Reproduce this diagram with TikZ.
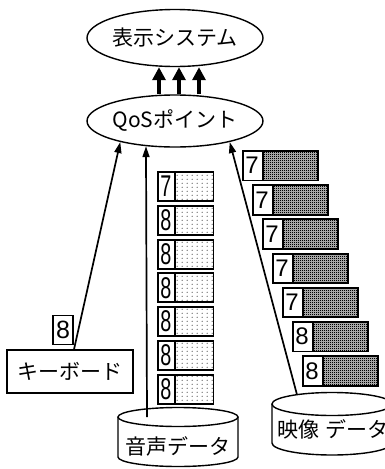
\documentclass[tikz,border=0pt]{standalone}
\usepackage{graphicx}
\usepackage{fontspec}
\newfontfamily\jpfont{Noto Sans CJK JP}
\newfontfamily\numfont{Liberation Sans}
\usetikzlibrary{shapes.geometric,arrows.meta,patterns.meta,calc}

% light dot screen for audio packets
\tikzdeclarepattern{
  name=audiodots,
  type=uncolored,
  bounding box={(0pt,0pt) and (5pt,4.2pt)},
  tile size={(5pt,4.2pt)},
  code={\pgfpathcircle{\pgfpoint{2.5pt}{2.1pt}}{0.65pt}\pgfusepath{fill}}
}
% dense screen for video packets
\tikzdeclarepattern{
  name=videomesh,
  type=uncolored,
  bounding box={(0pt,0pt) and (2pt,2pt)},
  tile size={(2pt,2pt)},
  code={\pgfpathrectangle{\pgfpoint{0pt}{0pt}}{\pgfpoint{1.2pt}{1.2pt}}\pgfusepath{fill}}
}

\newcommand\slimdigit[1]{\scalebox{0.66}[1]{#1}}

\begin{document}
\begin{tikzpicture}[x=1pt,y=-1pt,
  jp/.style={font=\jpfont\fontsize{21pt}{21pt}\selectfont},
  oval/.style={ellipse, draw, line width=1.4pt, minimum width=176pt,
    inner sep=0pt},
  feed/.style={line width=1.7pt, -{Triangle[width=7pt,length=11pt]}},
  upflow/.style={line width=3.6pt, -{Triangle[width=13pt,length=13pt]}},
  drum/.style={line width=1.4pt, fill=white},
  pkt/.style={draw, line width=1.9pt, inner xsep=2.5pt, inner ysep=0pt,
    anchor=north west, align=left},
  apkt/.style={pkt, text width=50.5pt, minimum height=29pt,
    font=\numfont\fontsize{30pt}{30pt}\selectfont,
    path picture={
      \fill[pattern=audiodots]
        ([xshift=17pt]path picture bounding box.south west)
        rectangle (path picture bounding box.north east);
      \draw[line width=1.9pt]
        ([xshift=17pt]path picture bounding box.south west)
        -- ([xshift=17pt]path picture bounding box.north west);
    }},
  vpkt/.style={pkt, text width=70pt, minimum height=29.5pt,
    font=\numfont\fontsize{24pt}{24pt}\selectfont,
    path picture={
      \fill[black!35]
        ([xshift=20pt]path picture bounding box.south west)
        rectangle (path picture bounding box.north east);
      \fill[pattern=videomesh]
        ([xshift=20pt]path picture bounding box.south west)
        rectangle (path picture bounding box.north east);
      \draw[line width=1.9pt]
        ([xshift=20pt]path picture bounding box.south west)
        -- ([xshift=20pt]path picture bounding box.north west);
    }},
  keybox/.style={draw, line width=1.3pt, minimum width=126pt,
    minimum height=43pt, inner sep=0pt},
  tokbox/.style={draw, line width=1.9pt, minimum width=20pt,
    minimum height=29pt, inner sep=0pt,
    font=\numfont\fontsize{25pt}{25pt}\selectfont},
]
\useasboundingbox (0,0) rectangle (385,469);

% display system and QoS point
\node[oval, minimum height=57pt, label={[jp]center:表示システム}] (disp) at (175,38) {};
\node[oval, minimum height=52pt, label={[jp]center:QoSポイント}] (qos) at (175,121) {};

\foreach \dx in {-16,4,24}
  \draw[upflow] ([xshift=\dx pt]qos.north) -- ([xshift=\dx pt]disp.south);

% keyboard source
\node[keybox, jp] (kbd) at (70,371.5) {キーボード};
\node[tokbox] (tok) at (63,330) {8};
\coordinate (kbdout) at ([xshift=4pt]kbd.north);
\draw[feed] (kbdout) -- (qos.201.4);

% audio stream
\foreach \d [count=\i from 0] in {7,8,8,8,8,8,8}
  \node[apkt] (a\i) at (157,{171+33.8*\i}) {\slimdigit{\d}};

\draw[drum] (118,417) -- (118,457)
  arc[start angle=180, end angle=0, x radius=60, y radius=9.5]
  -- (238,417);
\draw[drum] (178,417) ellipse[x radius=60, y radius=9.5];
\node[jp] (aud) at (178,446) {音声データ};
\coordinate (audtop) at (147,417);
\draw[feed] (audtop) -- (qos.221.4);

% video stream
\foreach \d [count=\i from 0] in {7,7,7,7,7,8,8}
  \node[vpkt] (v\i) at ({242+10*\i},{150+34.2*\i}) {\d};

\draw[drum] (272,404) -- (272,443)
  arc[start angle=180, end angle=0, x radius=60, y radius=12]
  -- (392,404);
\draw[drum] (332,404) ellipse[x radius=60, y radius=11.5];
\node[jp] (vid) at (333,429) {映像\hspace{7pt}データ};
\coordinate (vidtop) at (297,394.7);
\draw[feed] (vidtop) -- (qos.339.7);
\end{tikzpicture}
\end{document}
